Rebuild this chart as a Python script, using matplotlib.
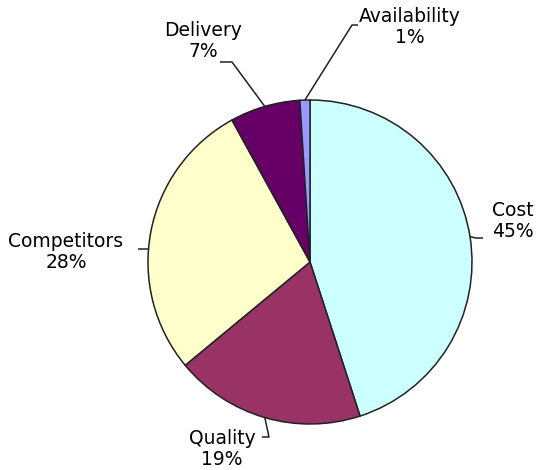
import numpy as np
import matplotlib.pyplot as plt

# share of each factor, clockwise from 12 o'clock
factors = ['Cost', 'Quality', 'Competitors', 'Delivery', 'Availability']
shares = [45, 19, 28, 7, 1]
colors = ['#CCFFFF', '#993366', '#FFFFCC', '#660066', '#9999FF']

# label text centre and leader elbow, in pixel units (y up)
label_pos = {
    'Cost': (513, 249),
    'Quality': (222, 21),
    'Competitors': (66, 218),
    'Delivery': (203, 429),
    'Availability': (410, 443),
}
elbows = {
    'Cost': [(483, 232), (476, 232)],
    'Quality': [(262, 33), (269, 33)],
    'Competitors': [(138, 221), (145, 221)],
    'Delivery': [(220, 408), (232, 408)],
    'Availability': [(358, 445), (352, 445)],
}

W, H = 541, 470
fig = plt.figure(figsize=(W / 100, H / 100), dpi=100)
ax = fig.add_axes([0, 0, 1, 1])

cx, cy, r = 310, 208, 162
wedges, _ = ax.pie(shares, colors=colors, startangle=90, counterclock=False,
                   center=(cx, cy), radius=r, frame=True,
                   wedgeprops=dict(edgecolor='#222222', linewidth=1.1))
ax.set_xlim(0, W)
ax.set_ylim(0, H)
ax.set_aspect('equal')
ax.axis('off')

for w, name, val in zip(wedges, factors, shares):
    mid = np.deg2rad((w.theta1 + w.theta2) / 2)
    ex, ey = cx + r * np.cos(mid), cy + r * np.sin(mid)
    pts = elbows[name]
    if name == 'Competitors':
        # run straight across to the rim at the label's height
        ey = pts[1][1]
        ex = cx - np.sqrt(r ** 2 - (ey - cy) ** 2)
    ax.plot([pts[0][0], pts[1][0], ex], [pts[0][1], pts[1][1], ey],
            color='#222222', lw=1.1, solid_capstyle='butt')
    tx, ty = label_pos[name]
    ax.text(tx, ty, f'{name}\n{val}%', ha='center', va='center',
            fontsize=13.5, color='black', linespacing=1.1,
            family='DejaVu Sans')

fig.savefig('out.png', dpi=100, facecolor='white')
